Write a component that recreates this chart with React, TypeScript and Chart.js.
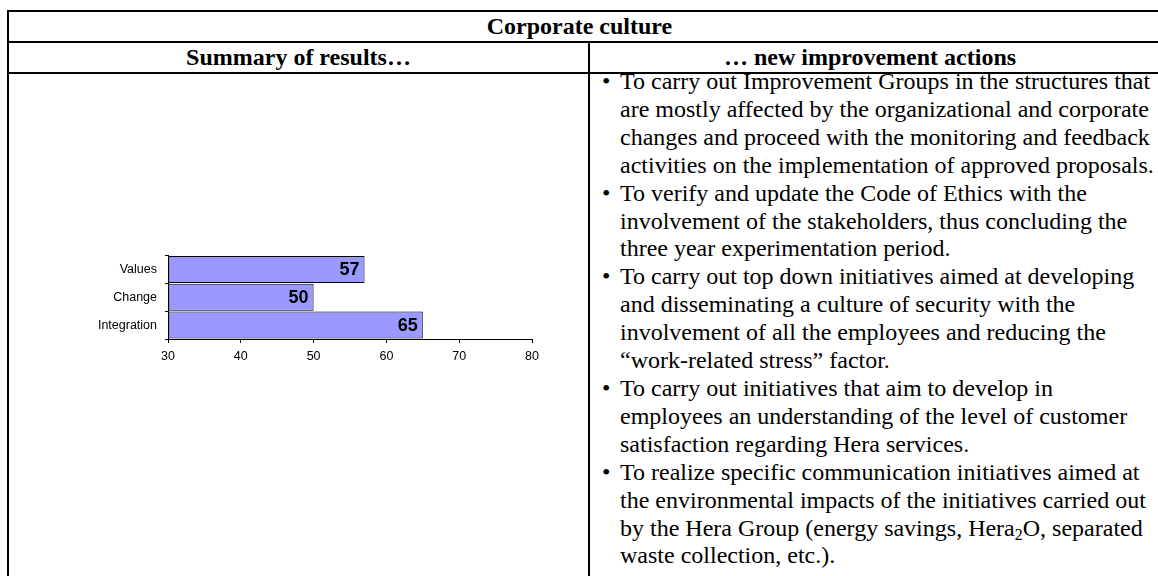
import React, { useEffect, useRef } from "react";
import { Chart, registerables } from "chart.js";

Chart.register(...registerables);

// ---- data ----
const categories = ["Values", "Change", "Integration"];
const scores = [57, 50, 65];
const axisMin = 30;
const axisMax = 80;
const axisStep = 10;

const title = "Corporate culture";
const leftHeader = "Summary of results…";
const rightHeader = "… new improvement actions";
const actions: string[][] = [
  [
    "To carry out Improvement Groups in the structures that",
    "are mostly affected by the organizational and corporate",
    "changes and proceed with the monitoring and feedback",
    "activities on the implementation of approved proposals.",
  ],
  [
    "To verify and update the Code of Ethics with the",
    "involvement of the stakeholders, thus concluding the",
    "three year experimentation period.",
  ],
  [
    "To carry out top down initiatives aimed at developing",
    "and disseminating a culture of security with the",
    "involvement of all the employees and reducing the",
    "\u201Cwork-related stress\u201D factor.",
  ],
  [
    "To carry out initiatives that aim to develop in",
    "employees an understanding of the level of customer",
    "satisfaction regarding Hera services.",
  ],
  [
    "To realize specific communication initiatives aimed at",
    "the environmental impacts of the initiatives carried out",
    "by the Hera Group (energy savings, Hera_2O, separated",
    "waste collection, etc.).",
  ],
];

const SERIF = '"Liberation Serif", "Times New Roman", serif';
const SANS = '"Liberation Sans", Arial, sans-serif';

function renderLine(line: string) {
  const idx = line.indexOf("_2");
  if (idx < 0) return line;
  return (
    <>
      {line.slice(0, idx)}
      <sub style={{ fontSize: "16px", lineHeight: 0, verticalAlign: "-4px" }}>2</sub>
      {line.slice(idx + 2)}
    </>
  );
}

const valueLabels = {
  id: "valueLabels",
  afterDatasetsDraw(chart: any) {
    const ctx = chart.ctx;
    const meta = chart.getDatasetMeta(0);
    ctx.save();
    ctx.font = `bold 18px ${SANS}`;
    ctx.fillStyle = "#000";
    ctx.textAlign = "right";
    ctx.textBaseline = "middle";
    meta.data.forEach((bar: any, i: number) => {
      ctx.fillText(String(chart.data.datasets[0].data[i]), bar.x - 5, bar.y + 1);
    });
    ctx.restore();
  },
};

function BarChart() {
  const ref = useRef<HTMLCanvasElement>(null);
  useEffect(() => {
    if (!ref.current) return;
    const chart = new Chart(ref.current, {
      type: "bar",
      data: {
        labels: categories,
        datasets: [
          {
            data: scores,
            backgroundColor: "#9999FF",
            borderColor: "#000",
            borderWidth: 1,
            borderSkipped: false,
            base: axisMin,
            barPercentage: 0.97,
            categoryPercentage: 1,
          } as any,
        ],
      },
      options: {
        indexAxis: "y",
        animation: false,
        responsive: false,
        devicePixelRatio: 1,
        layout: { padding: { top: 13, right: 48, left: 0, bottom: 0 } },
        plugins: { legend: { display: false }, tooltip: { enabled: false } },
        scales: {
          y: {
            type: "category",
            afterFit: (s: any) => {
              s.width = 148;
            },
            grid: { offset: true, drawOnChartArea: false, tickLength: 3, color: "#000" },
            border: { color: "#000", width: 1 },
            ticks: { color: "#000", font: { family: SANS, size: 12.5 }, padding: 8 },
          },
          x: {
            type: "linear",
            min: axisMin,
            max: axisMax,
            afterFit: (s: any) => {
              s.height = 41;
            },
            grid: { drawOnChartArea: false, tickLength: 4, color: "#000" },
            border: { color: "#000", width: 1 },
            ticks: { stepSize: axisStep, color: "#000", font: { family: SANS, size: 12.5 }, padding: 6 },
          },
        },
      } as any,
      plugins: [valueLabels],
    });
    return () => chart.destroy();
  }, []);
  return (
    <canvas
      ref={ref}
      width={560}
      height={140}
      style={{ position: "absolute", left: 20, top: 240, width: 560, height: 140 }}
    />
  );
}

const line = (l: number, t: number, w: number, h: number) => (
  <div style={{ position: "absolute", left: l, top: t, width: w, height: h, background: "#000" }} />
);

export default function App() {
  const R = 1150;
  const headStyle: any = {
    position: "absolute",
    height: 29,
    lineHeight: "29px",
    textAlign: "center",
    fontWeight: "bold",
    fontSize: 24,
    whiteSpace: "nowrap",
  };
  return (
    <div
      style={{
        position: "fixed",
        left: 0,
        top: 0,
        width: 1158,
        height: 576,
        overflow: "hidden",
        background: "#fff",
        fontFamily: SERIF,
        color: "#000",
      }}
    >
      {line(7, 10, 1300, 2)}
      {line(7, 41, 1300, 2)}
      {line(7, 72, 1300, 2)}
      {line(7, 10, 2, 700)}
      {line(588, 41, 2, 700)}

      <div style={{ ...headStyle, left: 9, width: R - 9, top: 12 }}>{title}</div>
      <div style={{ ...headStyle, left: 9, width: 579, top: 43 }}>{leftHeader}</div>
      <div style={{ ...headStyle, left: 590, width: R - 590, top: 43 }}>{rightHeader}</div>

      <div
        style={{
          position: "absolute",
          left: 620,
          top: 68,
          fontSize: 24,
          lineHeight: "27.9px",
          whiteSpace: "nowrap",
        }}
      >
        {actions.map((group, gi) => (
          <div key={gi} style={{ position: "relative" }}>
            <span style={{ position: "absolute", left: -18, top: 0 }}>{"\u2022"}</span>
            {group.map((ln, li) => (
              <div key={li}>{renderLine(ln)}</div>
            ))}
          </div>
        ))}
      </div>

      <BarChart />
    </div>
  );
}
